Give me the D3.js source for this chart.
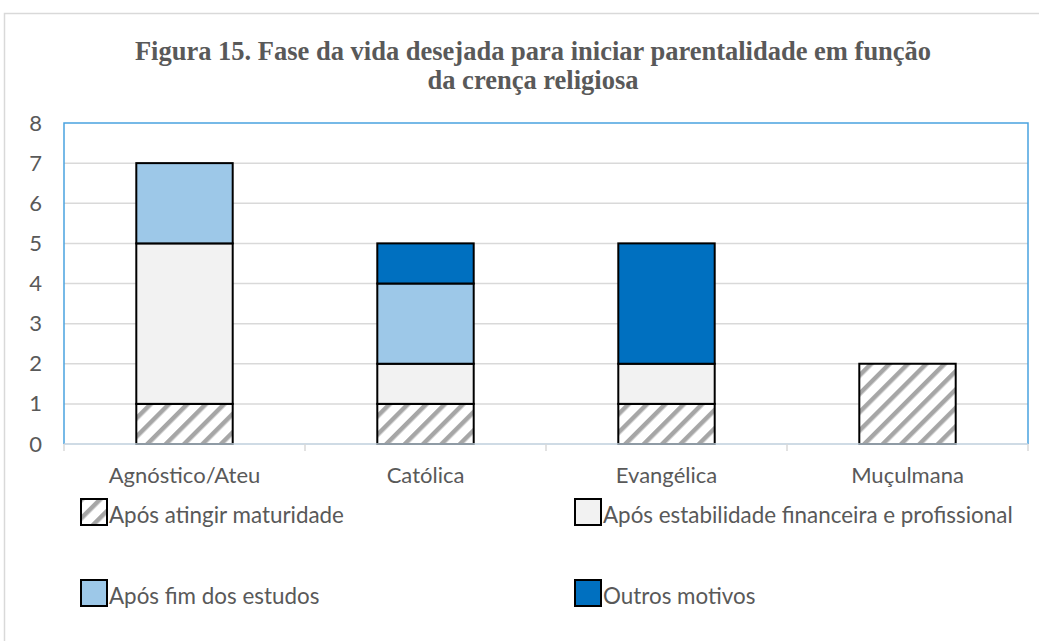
<!DOCTYPE html>
<html><head><meta charset="utf-8">
<script src="https://cdn.jsdelivr.net/npm/d3@7"></script>
<style>body{margin:0;background:#fff}svg{display:block}</style>
</head><body>
<script>
const categories = ["Agnóstico/Ateu","Católica","Evangélica","Muçulmana"];
const seriesNames = ["Após atingir maturidade","Após estabilidade financeira e profissional","Após fim dos estudos","Outros motivos"];
const maturidade = [1,1,1,2];
const estabilidade = [4,1,1,0];
const estudos = [2,2,0,0];
const outros = [0,1,3,0];
const yTicks = [0,1,2,3,4,5,6,7,8];
const titleLines = ["Figura 15. Fase da vida desejada para iniciar parentalidade em função","da crença religiosa"];

const W=1039,H=641;
const FONT="Lato, Carlito, sans-serif";
const svg=d3.select("body").append("svg").attr("width",W).attr("height",H);
const defs=svg.append("defs");
const pat=defs.append("pattern").attr("id","hatch").attr("patternUnits","userSpaceOnUse")
  .attr("width",13).attr("height",13).attr("patternTransform","rotate(45)");
pat.append("rect").attr("width",13).attr("height",13).attr("fill","#fff");
pat.append("rect").attr("x",0).attr("width",4.5).attr("height",13).attr("fill","#a6a6a6");
const fills=["url(#hatch)","#f2f2f2","#9dc8e8","#0070c0"];

// outer border
svg.append("rect").attr("x",4.5).attr("y",13.5).attr("width",W).attr("height",H).attr("fill","none").attr("stroke","#d9d9d9").attr("stroke-width",1.5);

// title
const title=svg.append("text").attr("text-anchor","middle").attr("font-family","Liberation Serif, Times New Roman, serif")
  .attr("font-weight","bold").attr("font-size",26.5).attr("fill","#595959");
titleLines.forEach((t,i)=>title.append("tspan").attr("x",533).attr("y",60+i*29).text(t));

const x0=64,x1=1028,yTop=123,yBot=444;
const x=d3.scaleBand().domain(categories).range([x0,x1]).paddingInner(0.6).paddingOuter(0.3);
const xb=d3.scaleBand().domain(categories).range([x0,x1]);
const y=d3.scaleLinear().domain([0,8]).range([yBot,yTop]);

// gridlines
svg.append("g").selectAll("line").data(yTicks.filter(d=>d>0&&d<8)).join("line")
  .attr("x1",x0).attr("x2",x1).attr("y1",d=>y(d)).attr("y2",d=>y(d)).attr("stroke","#d9d9d9").attr("stroke-width",1.5);

// plot border (top, left, right in blue)
svg.append("path").attr("d",`M${x0},${yBot}V${yTop}H${x1}V${yBot}`).attr("fill","none").attr("stroke","#4aa3df").attr("stroke-width",1.5);

// stacked bars
const rows=categories.map((c,i)=>({cat:c,v:[maturidade[i],estabilidade[i],estudos[i],outros[i]]}));
const stack=d3.stack().keys([0,1,2,3]).value((d,k)=>d.v[k]);
const stacked=stack(rows);
const gb=svg.append("g");
stacked.forEach((layer,k)=>{
  gb.selectAll(null).data(layer.filter(d=>d[1]>d[0])).join("rect")
    .attr("x",d=>x(d.data.cat)).attr("width",x.bandwidth())
    .attr("y",d=>y(d[1])).attr("height",d=>y(d[0])-y(d[1]))
    .attr("fill",fills[k]).attr("stroke","#000").attr("stroke-width",2);
});

// x axis
const xAxis=svg.append("g").attr("transform",`translate(0,${yBot})`);
xAxis.append("line").attr("x1",x0).attr("x2",x1).attr("stroke","#bfcfdc").attr("stroke-width",1.5);
xAxis.selectAll(".tk").data(categories.concat(["_end"])).join("line")
  .attr("x1",(d,i)=>x0+i*xb.bandwidth()).attr("x2",(d,i)=>x0+i*xb.bandwidth())
  .attr("y1",0).attr("y2",7).attr("stroke","#d9d9d9").attr("stroke-width",1.5);
xAxis.selectAll("text").data(categories).join("text")
  .attr("x",d=>xb(d)+xb.bandwidth()/2).attr("y",39).attr("text-anchor","middle")
  .attr("font-family",FONT).attr("font-size",22).attr("fill","#595959").text(d=>d);

// y axis labels
const yAxis=svg.append("g").attr("transform",`translate(${x0},0)`)
  .call(d3.axisLeft(y).tickValues(yTicks).tickSize(0).tickPadding(22).tickFormat(d3.format("d")));
yAxis.select(".domain").remove();
yAxis.selectAll("text").attr("font-family",FONT).attr("font-size",22).attr("fill","#595959");

// legend
const legPos=[[80,498],[574,498],[80,579],[574,579]];
seriesNames.forEach((n,k)=>{
  const g=svg.append("g").attr("transform",`translate(${legPos[k][0]},${legPos[k][1]})`);
  g.append("rect").attr("x",1).attr("y",1).attr("width",26).attr("height",26).attr("fill",fills[k]).attr("stroke","#000").attr("stroke-width",2);
  g.append("text").attr("x",29).attr("y",25).attr("font-family",FONT).attr("font-size",22.4).attr("fill","#595959").text(n);
});
</script>
</body></html>
